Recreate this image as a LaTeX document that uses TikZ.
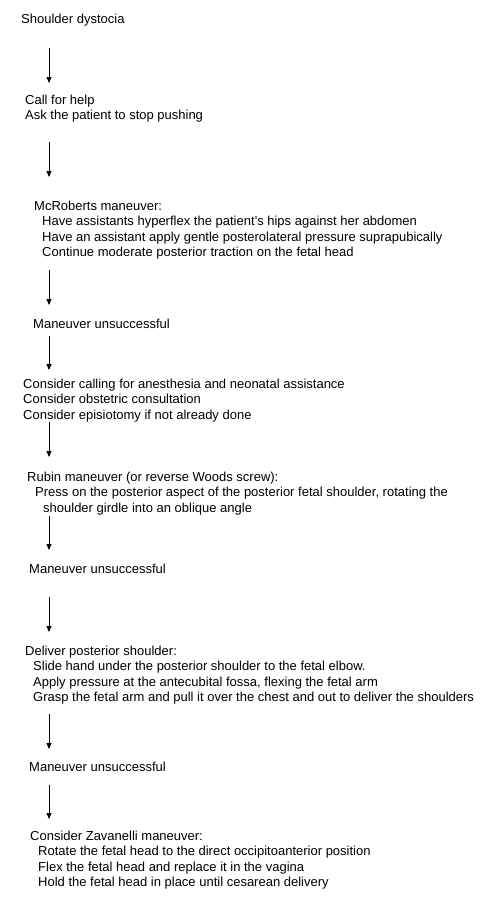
\documentclass[tikz,border=0pt]{standalone}
\usepackage{fontspec}
\setmainfont{Liberation Sans}
\usetikzlibrary{arrows.meta}
\tikzset{
  txt/.style={inner sep=0pt, anchor=base west, align=left,
    font=\fontsize{13.0}{15.6}\selectfont},
  flow/.style={-{Triangle[width=5pt,length=6pt]}, line width=0.9pt, black}
}
\newcommand{\ind}[1]{\hspace*{#1pt}}
\begin{document}
\begin{tikzpicture}[x=1pt,y=-1pt]
\useasboundingbox (0,0) rectangle (483,903);
% anchor base west = baseline of the LAST line of each block
\node[txt] (n1) at (21,23) {Shoulder dystocia};
\node[txt] (n2) at (25,119.6) {Call for help\\Ask the patient to stop pushing};
\node[txt] (n3) at (34,256.8) {McRoberts maneuver:\\
\ind{8}Have assistants hyperflex the patient's hips against her abdomen\\
\ind{8}Have an assistant apply gentle posterolateral pressure suprapubically\\
\ind{8}Continue moderate posterior traction on the fetal head};
\node[txt] (n4) at (33,328) {Maneuver unsuccessful};
\node[txt] (n5) at (23,419.2) {Consider calling for anesthesia and neonatal assistance\\
Consider obstetric consultation\\
Consider episiotomy if not already done};
\node[txt] (n6) at (27,512.2) {Rubin maneuver (or reverse Woods screw):\\
\ind{8}Press on the posterior aspect of the posterior fetal shoulder, rotating the\\
\ind{16}shoulder girdle into an oblique angle};
\node[txt] (n7) at (29,573) {Maneuver unsuccessful};
\node[txt] (n8) at (25,701.8) {Deliver posterior shoulder:\\
\ind{8}Slide hand under the posterior shoulder to the fetal elbow.\\
\ind{8}Apply pressure at the antecubital fossa, flexing the fetal arm\\
\ind{8}Grasp the fetal arm and pull it over the chest and out to deliver the shoulders};
\node[txt] (n9) at (29,771) {Maneuver unsuccessful};
\node[txt] (n10) at (30,886.8) {Consider Zavanelli maneuver:\\
\ind{8}Rotate the fetal head to the direct occipitoanterior position\\
\ind{8}Flex the fetal head and replace it in the vagina\\
\ind{8}Hold the fetal head in place until cesarean delivery};
\foreach \i/\a/\b in {1/48/83,2/142/177,3/270/305,4/336/370,5/422/457,6/516/550,7/597/632,8/714/749,9/785/819}{
  \coordinate (s\i) at (49,\a);
  \coordinate (e\i) at (49,\b);
  \draw[flow] (s\i) -- (e\i);
}
\end{tikzpicture}
\end{document}
